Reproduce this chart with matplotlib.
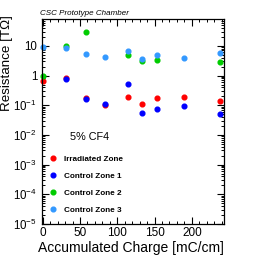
import numpy as np
import matplotlib.pyplot as plt
from matplotlib.ticker import LogLocator, MultipleLocator, NullFormatter

plt.rcParams['font.family'] = ['Liberation Sans', 'DejaVu Sans']
plt.rcParams['mathtext.default'] = 'regular'

# data (charge in mC/cm, resistance in TOhm)
irr_x = [1, 31, 58, 83, 115, 133, 153, 190, 238]
irr_y = [0.64, 0.82, 0.18, 0.10, 0.19, 0.11, 0.175, 0.19, 0.14]

cz1_x = [31, 58, 83, 115, 133, 153, 190, 238]
cz1_y = [0.74, 0.16, 0.11, 0.53, 0.056, 0.073, 0.094, 0.052]

cz2_x = [1, 31, 58, 115, 133, 153, 238]
cz2_y = [1.0, 10.0, 30.0, 5.1, 3.0, 3.4, 2.9]

cz3_x = [1, 31, 58, 83, 115, 133, 153, 190, 238]
cz3_y = [9.5, 8.7, 5.4, 4.3, 6.6, 3.6, 4.8, 4.0, 5.8]

ytick_vals = [1e-5, 1e-4, 1e-3, 1e-2, 1e-1, 1, 10]
ytick_labels = ['$10^{-5}$', '$10^{-4}$', '$10^{-3}$', '$10^{-2}$', '$10^{-1}$', '1', '10']

series = [
    (irr_x, irr_y, '#ff0000', 'Irradiated Zone'),
    (cz1_x, cz1_y, '#0000ff', 'Control Zone 1'),
    (cz2_x, cz2_y, '#00cc00', 'Control Zone 2'),
    (cz3_x, cz3_y, '#3399ff', 'Control Zone 3'),
]

fig = plt.figure(figsize=(2.65, 2.58), dpi=100)
ax = fig.add_axes([0.157, 0.132, 0.688, 0.794])

for x, y, c, lab in series:
    ax.plot(x, y, 'o', color=c, ms=3.4, mec=c, label=lab, clip_on=False)

ax.set_yscale('log')
ax.set_xlim(-1.5, 243)
ax.set_ylim(1e-5, 80)
ax.set_yticks(ytick_vals)
ax.set_yticklabels(ytick_labels)
ax.yaxis.set_minor_locator(LogLocator(base=10, subs=np.arange(2, 10)))
ax.yaxis.set_minor_formatter(NullFormatter())
ax.xaxis.set_major_locator(MultipleLocator(50))
ax.xaxis.set_minor_locator(MultipleLocator(10))

ax.tick_params(which='both', direction='in', top=True, right=True)
ax.tick_params(axis='y', pad=3.2, labelsize=8.3)
ax.tick_params(axis='x', pad=2.5, labelsize=8.5)
ax.tick_params(which='major', length=5, width=0.8)
ax.tick_params(which='minor', length=2.5, width=0.7)
for s in ax.spines.values():
    s.set_linewidth(0.9)

ax.set_xlabel('Accumulated Charge [mC/cm]', fontsize=10, ha='right', va='center')
ax.xaxis.set_label_coords(1.0, -0.116)
ax.set_ylabel('Resistance [T\u03a9]', fontsize=9.6, ha='right', va='center')
ax.yaxis.set_label_coords(-0.19, 1.02)

fig.text(0.152, 0.948, 'CSC Prototype Chamber', fontsize=5.8, style='italic',
         ha='left', va='center')

ax.text(0.155, 0.424, '5% CF4', transform=ax.transAxes, fontsize=7.8,
        ha='left', va='center')
leg = ax.legend(loc='lower left', bbox_to_anchor=(0.0, 0.02), frameon=False,
                prop={'weight': 'bold', 'size': 5.9}, handletextpad=0.6,
                labelspacing=1.15, handlelength=1.4, borderaxespad=0.3)

fig.savefig('out.png', dpi=100)
